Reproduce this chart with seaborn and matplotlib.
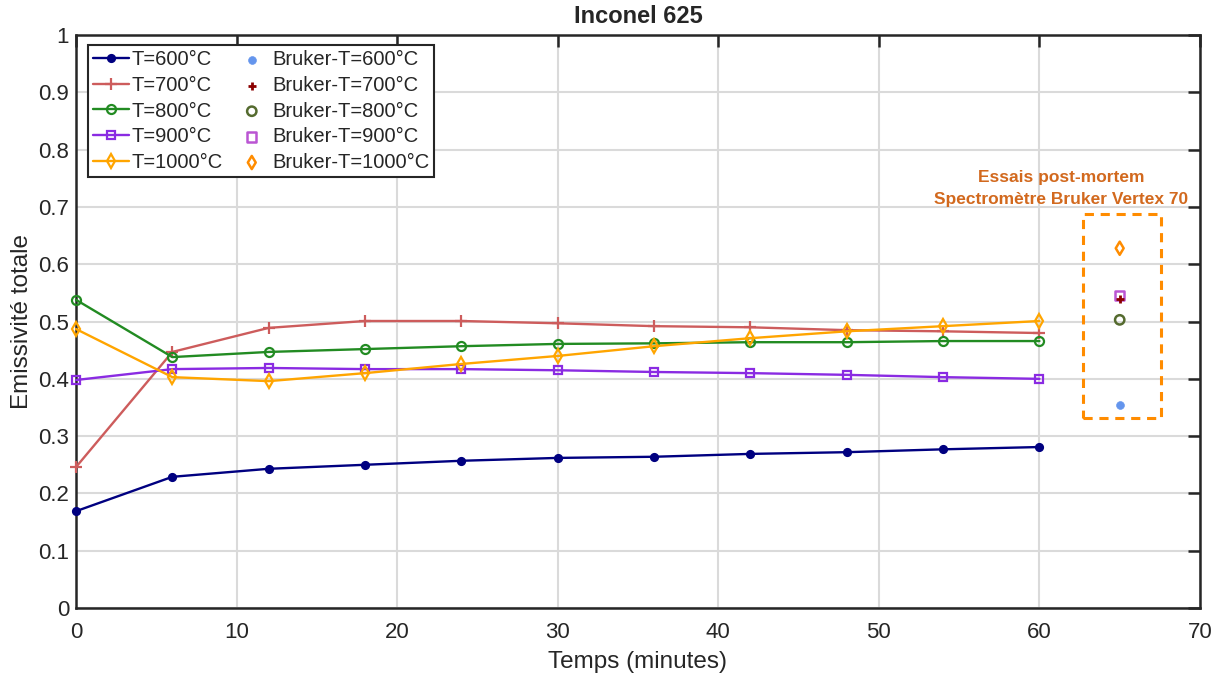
import matplotlib
matplotlib.use("Agg")
import matplotlib.pyplot as plt
import matplotlib.patches as mpatches
import pandas as pd
import seaborn as sns

# data
temps_min = [0, 6, 12, 18, 24, 30, 36, 42, 48, 54, 60]
e600 = [0.169, 0.229, 0.243, 0.250, 0.257, 0.262, 0.264, 0.269, 0.272, 0.277, 0.281]
e700 = [0.246, 0.447, 0.489, 0.501, 0.501, 0.497, 0.492, 0.490, 0.485, 0.483, 0.480]
e800 = [0.538, 0.438, 0.447, 0.452, 0.457, 0.461, 0.462, 0.464, 0.464, 0.466, 0.466]
e900 = [0.398, 0.417, 0.419, 0.417, 0.417, 0.415, 0.412, 0.410, 0.407, 0.403, 0.400]
e1000 = [0.487, 0.403, 0.396, 0.410, 0.426, 0.440, 0.457, 0.471, 0.483, 0.492, 0.501]

bruker_x = 65
bruker_vals = [0.354, 0.539, 0.503, 0.545, 0.628]

labels = ["T=600°C", "T=700°C", "T=800°C", "T=900°C", "T=1000°C"]
bruker_labels = ["Bruker-T=600°C", "Bruker-T=700°C", "Bruker-T=800°C",
                 "Bruker-T=900°C", "Bruker-T=1000°C"]

yticks = [0, 0.1, 0.2, 0.3, 0.4, 0.5, 0.6, 0.7, 0.8, 0.9, 1]
ytick_labels = ["0", "0.1", "0.2", "0.3", "0.4", "0.5", "0.6", "0.7", "0.8", "0.9", "1"]
xticks = [0, 10, 20, 30, 40, 50, 60, 70]

line_colors = ["#000080", "#CD5C5C", "#228B22", "#8A2BE2", "#FFA500"]
line_markers = ["o", "+", "o", "s", "d"]
line_filled = [True, True, False, False, False]
bruker_colors = ["#6495ED", "#8B0000", "#556B2F", "#BA55D3", "#FF8C00"]

sns.set_style("white")
plt.rcParams["font.family"] = ["Liberation Sans", "DejaVu Sans"]

fig = plt.figure(figsize=(12.2, 6.76), dpi=100)
ax = fig.add_axes([0.0623, 0.1006, 0.9213, 0.8474])

series = [e600, e700, e800, e900, e1000]
for vals, lab, col, mk, filled in zip(series, labels, line_colors, line_markers, line_filled):
    df = pd.DataFrame({"t": temps_min, "e": vals})
    ms = {"o": 6.5, "+": 8, "s": 6, "d": 7.5}[mk]
    if filled and mk == "o":
        ms = 5
    sns.lineplot(data=df, x="t", y="e", ax=ax, color=col, marker=mk,
                 markersize=ms, linewidth=1.7, label=lab, clip_on=False,
                 markerfacecolor=col if filled else "none",
                 markeredgecolor=col, markeredgewidth=1.6, zorder=3)

for val, lab, col, mk, filled in zip(bruker_vals, bruker_labels, bruker_colors,
                                     line_markers, line_filled):
    df = pd.DataFrame({"t": [bruker_x], "e": [val]})
    if filled and mk == "o":
        sns.scatterplot(data=df, x="t", y="e", ax=ax, marker="o", s=32,
                        color=col, edgecolor=col, label=lab, zorder=3)
    elif mk == "+":
        sns.scatterplot(data=df, x="t", y="e", ax=ax, marker="+", s=36,
                        color=col, linewidth=2, label=lab, zorder=4)
    else:
        sns.scatterplot(data=df, x="t", y="e", ax=ax, marker=mk, s=45,
                        facecolors="none", edgecolor=col, linewidth=1.8,
                        label=lab, zorder=3)

# dashed box around the post-mortem measurements
ax.add_patch(mpatches.Rectangle((62.7, 0.332), 4.9, 0.356, fill=False,
                                edgecolor="#FF8C00", linestyle=(0, (3, 2.2)),
                                linewidth=2.2, zorder=2))
ax.text(61.35, 0.743, "Essais post-mortem", ha="center", va="baseline",
        color="#D2691E", fontweight="bold", fontsize=12.5)
ax.text(61.35, 0.705, "Spectromètre Bruker Vertex 70", ha="center",
        va="baseline", color="#D2691E", fontweight="bold", fontsize=12.5)

ax.set_xlim(0, 70)
ax.set_ylim(0, 1)
ax.set_xticks(xticks)
ax.set_yticks(yticks)
ax.set_yticklabels(ytick_labels)
ax.grid(True, color="#dadada", linewidth=1.5)
ax.set_axisbelow(True)
ax.tick_params(direction="in", top=True, right=True, length=8.5, width=1.8,
               labelsize=16, colors="#262626")
ax.tick_params(axis="x", pad=10)
ax.tick_params(axis="y", pad=5)
for sp in ax.spines.values():
    sp.set_color("#262626")
    sp.set_linewidth(1.8)
ax.set_xlabel("Temps (minutes)", fontsize=17.5, color="#262626", labelpad=6)
ax.set_ylabel("Emissivité totale", fontsize=17.5, color="#262626", labelpad=4)
ax.set_title("Inconel 625", fontsize=17, fontweight="bold", pad=8.5)

handles, labs = ax.get_legend_handles_labels()
leg = ax.legend(handles, labs, ncol=2, loc="upper left", fontsize=14.5,
                frameon=True, fancybox=False, edgecolor="#262626",
                borderpad=0.25, labelspacing=0.33, handlelength=1.8,
                handletextpad=0.1, columnspacing=0.55, borderaxespad=0,
                bbox_to_anchor=(0.0107, 0.9825))
leg.get_frame().set_linewidth(1.5)
leg.get_frame().set_alpha(1)

fig.savefig("out.png", dpi=100)
